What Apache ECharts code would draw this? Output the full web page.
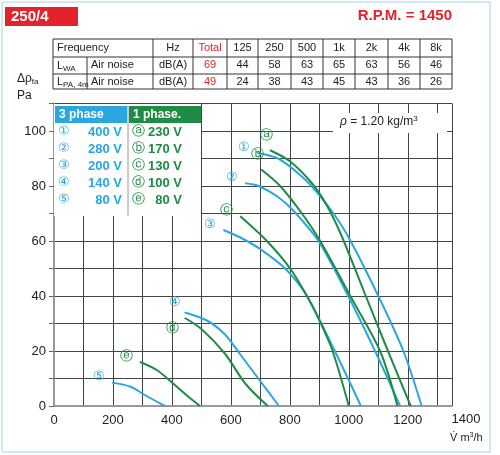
<!DOCTYPE html>
<html><head><meta charset="utf-8">
<script src="https://cdn.jsdelivr.net/npm/echarts@6/dist/echarts.min.js"></script>
<style>html,body{margin:0;padding:0;background:#fff}#c{width:500px;height:455px}</style>
</head><body><div id="c"></div>
<script>
const freqHeaders = ['Frequency','Hz','Total','125','250','500','1k','2k','4k','8k'];
const lwaRow = ['69','44','58','63','65','63','56','46'];
const lpaRow = ['49','24','38','43','45','43','36','26'];
const xTicks = [0,200,400,600,800,1000,1200,1400];
const yTicks = [0,20,40,60,80,100];
const threePhase = ['400 V','280 V','200 V','140 V','80 V'];
const onePhase = ['230 V','170 V','130 V','100 V','80 V'];
const blueMarks = ['①','②','③','④','⑤'];
const greenMarks = ['ⓐ','ⓑ','ⓒ','ⓓ','ⓔ'];
const curve1 = [[690,92],[760,90],[835,84],[890,78],[948,70],[1001,61],[1100,40],[1185,20],[1247,0]];
const curve2 = [[649,81],[694,80],[760,76],[812,71],[897,60],[993,41],[1089,20],[1174,0]];
const curve3 = [[575,64],[637,61],[700,57],[784,50],[858,40],[948,21],[1041,0]];
const curve4 = [[444,34],[520,31],[580,26],[630,19],[700,9],[763,0]];
const curve5 = [[197,8.5],[260,7],[308,4],[376,0]];
const curveA = [[733,93],[800,89],[875,81],[925,73],[975,62],[1050,42],[1129,21],[1210,0]];
const curveB = [[703,86],[767,80],[841,70],[903,60],[1005,40],[1106,20],[1165,0]];
const curveC = [[632,69],[722,60],[801,50],[858,40],[905,30],[945,20],[1000,0]];
const curveD = [[444,32],[500,28],[580,19],[650,8],[725,0]];
const curveE = [[292,16],[350,13],[410,7.6],[460,3],[495,0]];
const BLUE='#2aa7df', GREEN='#1e8c45';
const blues=[curve1,curve2,curve3,curve4,curve5], greens=[curveA,curveB,curveC,curveD,curveE];
const blueOff=[[-2,-6],[-2,-6],[-2,-6],[2,-10],[-2,-6]];
const greenOff=[[-4,-3],[-4,-3],[-2,-6],[0,10],[-2,-6]];
const greenPos=['top','top','left','left','left'];
function mk(data,color,mark,pos,off){
  return {type:'line',smooth:0.3,symbol:'none',data:data.map((p,i)=>i===0?{value:p,symbol:'circle',symbolSize:1,label:{show:true,position:pos,formatter:mark,color:color,fontSize:13,offset:off}}:p),
    lineStyle:{color:color,width:2},itemStyle:{color:color},silent:true,z:2};
}
const series=[];
blues.forEach((d,i)=>series.push(mk(d,BLUE,blueMarks[i],'left',blueOff[i])));
greens.forEach((d,i)=>series.push(mk(d,GREEN,greenMarks[i],greenPos[i],greenOff[i])));
const g=[];
g.push({type:'rect',shape:{x:2,y:2,width:488,height:450},style:{fill:'none',stroke:'#9fd6ec',lineWidth:1}});
g.push({type:'rect',shape:{x:5,y:7,width:73,height:19},style:{fill:'#e3232b'}});
g.push({type:'text',x:11,y:9,style:{text:'250/4',fill:'#fff',font:'bold 15px Liberation Sans'}});
g.push({type:'text',x:452,y:8,style:{text:'R.P.M. = 1450',fill:'#e3232b',font:'bold 15px Liberation Sans',align:'right'}});
const cols=[53,87,153,193,227,258,291,323,355,388,420,452], rows=[39,57,74,89];
rows.forEach(y=>g.push({type:'line',shape:{x1:53,y1:y,x2:452,y2:y},style:{stroke:'#333',lineWidth:1}}));
cols.forEach((x,i)=>{const y1=(i===1)?57:39;g.push({type:'line',shape:{x1:x,y1:y1,x2:x,y2:89},style:{stroke:'#333',lineWidth:1}});});
const tf='11px Liberation Sans Narrow, Liberation Sans';
function cell(t,x1,x2,y,c,al){g.push({type:'text',x:al==='left'?x1+4:(x1+x2)/2,y:y,style:{text:t,fill:c||'#222',font:tf,align:al||'center',verticalAlign:'middle'}});}
cell('Frequency',53,153,48,null,'left');
for(let i=1;i<freqHeaders.length;i++) cell(freqHeaders[i],cols[i+1],cols[i+2],48,i===2?'#e3232b':null);
g.push({type:'text',x:57,y:66,style:{rich:{a:{font:tf,fill:'#222'},s:{font:'8px Liberation Sans',fill:'#222',padding:[6,0,0,0]}},text:'{a|L}{s|WA}',verticalAlign:'middle'}});
g.push({type:'text',x:57,y:82,style:{rich:{a:{font:tf,fill:'#222'},s:{font:'8px Liberation Sans',fill:'#222',padding:[6,0,0,0]}},text:'{a|L}{s|PA, 4m}',verticalAlign:'middle'}});
cell('Air noise',87,153,65,null,'left');cell('Air noise',87,153,82,null,'left');
cell('dB(A)',153,193,65);cell('dB(A)',153,193,82);
lwaRow.forEach((v,i)=>cell(v,cols[i+3],cols[i+4],65,i===0?'#e3232b':null));
lpaRow.forEach((v,i)=>cell(v,cols[i+3],cols[i+4],82,i===0?'#e3232b':null));
g.push({type:'text',x:17,y:72,style:{rich:{a:{font:'12px Liberation Sans',fill:'#222'},s:{font:'8px Liberation Sans',fill:'#222',padding:[6,0,0,0]}},text:'{a|Δρ}{s|fa}'}});
g.push({type:'text',x:17,y:90,style:{text:'Pa',font:'12px Liberation Sans',fill:'#222'}});
g.push({type:'text',x:450,y:432,style:{rich:{a:{font:'11px Liberation Sans',fill:'#222'},s:{font:'7px Liberation Sans',fill:'#222',padding:[0,0,5,0]}},text:'{a|V̇ m}{s|3}{a|/h}'}});
g.push({type:'text',x:466,y:413,style:{text:'1400',font:'13px Liberation Sans',fill:'#222',align:'center'}});
g.push({type:'rect',z:50,shape:{x:333,y:113,width:114,height:20},style:{fill:'#fff'}});
g.push({type:'text',z:51,x:340,y:115,style:{rich:{a:{font:'italic 12px Liberation Sans',fill:'#222'},b:{font:'12px Liberation Sans',fill:'#222'},s:{font:'8px Liberation Sans',fill:'#222',padding:[0,0,6,0]}},text:'{a|ρ}{b| = 1.20 kg/m}{s|3}'}});
g.push({type:'rect',z:50,shape:{x:54,y:104,width:147,height:112},style:{fill:'#fff'}});
g.push({type:'rect',z:51,shape:{x:55,y:106,width:72,height:17},style:{fill:BLUE}});
g.push({type:'rect',z:51,shape:{x:129,y:106,width:72,height:17},style:{fill:GREEN}});
g.push({type:'text',z:52,x:59,y:115,style:{text:'3 phase',fill:'#fff',font:'bold 12px Liberation Sans Narrow, Liberation Sans',verticalAlign:'middle'}});
g.push({type:'text',z:52,x:133,y:115,style:{text:'1 phase.',fill:'#fff',font:'bold 12px Liberation Sans Narrow, Liberation Sans',verticalAlign:'middle'}});
g.push({type:'line',z:51,shape:{x1:128,y1:106,x2:128,y2:216},style:{stroke:'#999',lineWidth:1}});
for(let i=0;i<5;i++){const y=132+i*17;
 g.push({type:'text',z:52,x:58,y:y,style:{text:blueMarks[i],fill:BLUE,font:'13px DejaVu Sans',verticalAlign:'middle'}});
 g.push({type:'text',z:52,x:122,y:y,style:{text:threePhase[i],fill:BLUE,font:'bold 13px Liberation Sans Narrow, Liberation Sans',align:'right',verticalAlign:'middle'}});
 g.push({type:'text',z:52,x:132,y:y,style:{text:greenMarks[i],fill:GREEN,font:'13px DejaVu Sans',verticalAlign:'middle'}});
 g.push({type:'text',z:52,x:182,y:y,style:{text:onePhase[i],fill:GREEN,font:'bold 13px Liberation Sans Narrow, Liberation Sans',align:'right',verticalAlign:'middle'}});
}
const chart=echarts.init(document.getElementById('c'));
chart.setOption({
 animation:false,
 grid:{left:54,right:48,top:103.5,bottom:49,show:false},
 xAxis:{type:'value',min:0,max:1350,interval:100,
   axisLine:{show:true,lineStyle:{color:'#999',width:2}},axisTick:{show:false},
   axisLabel:{fontSize:13,color:'#222',fontFamily:'Liberation Sans',formatter:v=>xTicks.includes(v)?String(v):''},
   splitLine:{show:true,lineStyle:{color:'#444',width:1}}},
 yAxis:{type:'value',min:0,max:110,interval:10,
   axisLine:{show:true,lineStyle:{color:'#999',width:2}},axisTick:{show:true,length:5,lineStyle:{color:'#666'},interval:0},
   axisLabel:{fontSize:13,color:'#222',fontFamily:'Liberation Sans',formatter:v=>yTicks.includes(v)?String(v):''},
   splitLine:{show:true,lineStyle:{color:'#444',width:1}}},
 series:series,
 graphic:g
});
</script></body></html>
